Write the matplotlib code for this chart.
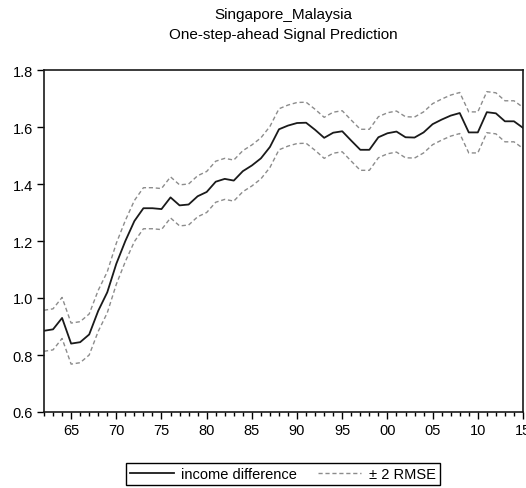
import matplotlib
matplotlib.use("Agg")
import matplotlib.pyplot as plt
from matplotlib.ticker import MultipleLocator, FuncFormatter
import numpy as np

years = list(range(1962, 2016))
income_diff = [
    0.885, 0.890, 0.930, 0.840, 0.845, 0.872, 0.955, 1.020, 1.120, 1.200,
    1.270, 1.315, 1.315, 1.312, 1.353, 1.325, 1.328, 1.357, 1.372, 1.408,
    1.418, 1.412, 1.445, 1.465, 1.490, 1.530, 1.592, 1.605, 1.614, 1.615,
    1.590, 1.562, 1.580, 1.585, 1.552, 1.520, 1.520, 1.564, 1.578, 1.584,
    1.564, 1.563, 1.581, 1.610, 1.626, 1.640, 1.649, 1.581, 1.581, 1.652,
    1.648, 1.620, 1.620, 1.597,
]
two_rmse = 0.072

y_ticks = [0.6, 0.8, 1.0, 1.2, 1.4, 1.6, 1.8]
x_major = list(range(1965, 2016, 5))

x = np.array(years)
y = np.array(income_diff)

plt.rcParams['font.family'] = ['Liberation Sans', 'DejaVu Sans']

fig = plt.figure(figsize=(5.26, 4.89), dpi=100)
ax = fig.add_axes([44/526, 1 - 413/489, (523-44)/526, (413-71)/489])

ax.plot(x, y, color='#1a1a1a', lw=1.3, label='income difference')
ax.plot(x, y + two_rmse, color='#8c8c8c', lw=1.0, ls=(0, (3, 2)), label='± 2 RMSE')
ax.plot(x, y - two_rmse, color='#8c8c8c', lw=1.0, ls=(0, (3, 2)))

ax.set_xlim(1962, 2015)
ax.set_ylim(0.6, 1.8)
ax.set_yticks(y_ticks)
ax.yaxis.set_major_formatter(FuncFormatter(lambda v, p: f"{v:.1f}"))
ax.set_xticks(x_major)
ax.xaxis.set_minor_locator(MultipleLocator(1))
ax.xaxis.set_major_formatter(FuncFormatter(lambda v, p: f"{int(round(v)) % 100:02d}"))

ax.tick_params(axis='both', which='major', direction='out', length=5, width=1,
               labelsize=10.5, colors='black', pad=3)
ax.tick_params(axis='x', which='minor', direction='out', length=3, width=1)
ax.tick_params(top=False, right=False)
for s in ax.spines.values():
    s.set_linewidth(1.2)
    s.set_color('#1a1a1a')

fig.text(283/526, 1 - 15/489, 'Singapore_Malaysia', ha='center', va='center', fontsize=11)
fig.text(283/526, 1 - 35/489, 'One-step-ahead Signal Prediction', ha='center', va='center', fontsize=11)

leg = fig.legend(loc='center', bbox_to_anchor=(283/526, 1 - 475/489), ncol=2,
                 frameon=True, fancybox=False, framealpha=1, edgecolor='black',
                 fontsize=10.5, handlelength=3.0, columnspacing=1.4, borderpad=0.3,
                 handletextpad=0.5)
leg.get_frame().set_linewidth(1.0)

fig.savefig('out.png', dpi=100)
